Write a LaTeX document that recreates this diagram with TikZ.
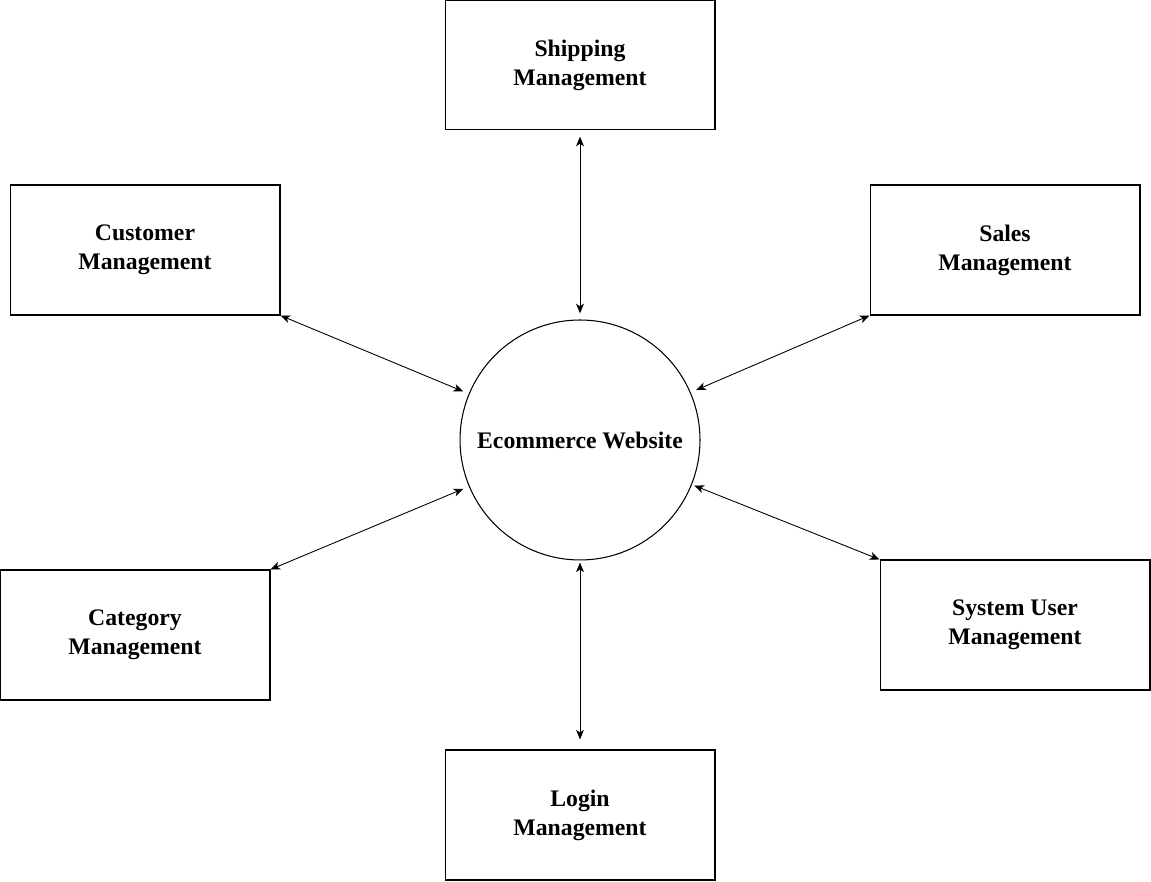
\documentclass[tikz,border=0pt]{standalone}
\usepackage{fontspec}
\setmainfont{Liberation Serif}
\usetikzlibrary{arrows.meta}
\usetikzlibrary{positioning}

\begin{document}
\begin{tikzpicture}[x=0.02cm,y=0.02cm,
  module/.style={draw,line width=0.6pt,minimum width=5.4cm,minimum height=2.6cm,inner sep=0pt,
    align=center,font=\fontsize{13.5}{16.5}\selectfont\bfseries},
  hub/.style={draw,circle,line width=0.6pt,minimum size=4.8cm,inner sep=0pt,
    font=\fontsize{13.5}{16.5}\selectfont\bfseries},
  link/.style={{Stealth[length=5.5pt,width=4.5pt,inset=1.5pt]}-{Stealth[length=5.5pt,width=4.5pt,inset=1.5pt]},line width=0.5pt}]
\useasboundingbox (0,0) rectangle (1151,881);

\node[hub] (web) at (580,441) {Ecommerce Website};

\node[module] (ship) at (580,816) {Shipping\\Management};
\node[module] (cust) at (145,631) {Customer\\Management};
\node[module] (sales) at (1005,631) {Sales\\Management};
\node[module] (cat) at (135,246) {Category\\Management};
\node[module] (sysu) at (1015,256) {System User\\Management};
\node[module] (login) at (580,66) {Login\\Management};

\draw[link,shorten <=5pt*0.7,shorten >=5pt*0.7] (ship.south) -- (web.north);
\draw[link,shorten >=1.2mm] (cust.south east) -- (web);
\draw[link,shorten >=1.2mm] (sales.south west) -- (web);
\draw[link,shorten >=1.2mm] (cat.north east) -- (web);
\draw[link,shorten >=0.5mm] (sysu.north west) -- (web);
\draw[link,shorten <=0.4mm,shorten >=2mm] (web.south) -- (login.north);

\end{tikzpicture}
\end{document}
